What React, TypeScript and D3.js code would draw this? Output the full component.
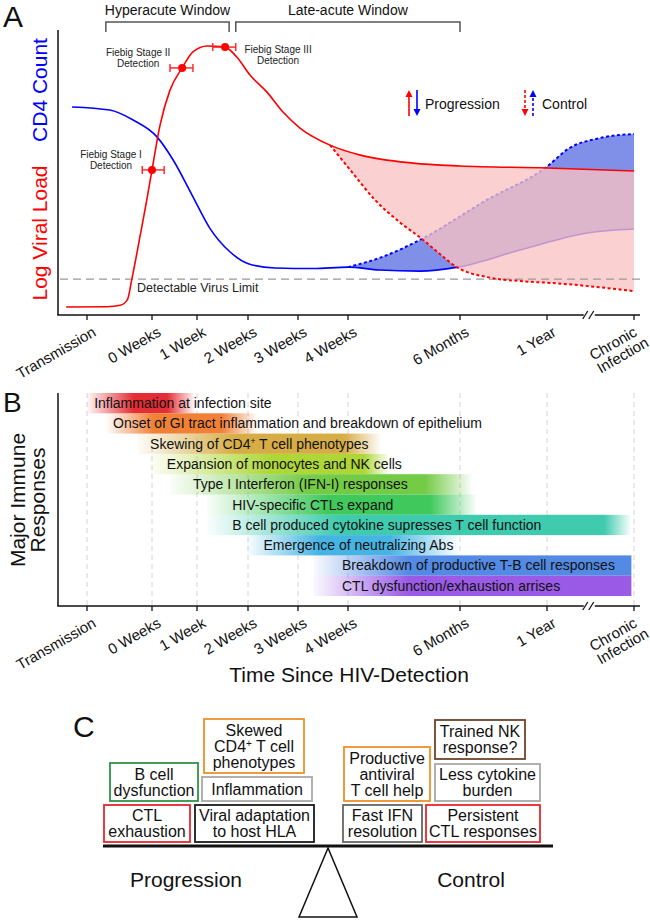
import React from "react";
import * as d3 from "d3";

// ---------- shared time axis ----------
const TICK_LABELS: string[][] = [
  ["Transmission"], ["0 Weeks"], ["1 Week"], ["2 Weeks"], ["3 Weeks"],
  ["4 Weeks"], ["6 Months"], ["1 Year"], ["Chronic", "Infection"],
];
const TICK_TIMES = [0, 1, 2, 3, 4, 5, 6, 7, 8];
const AXIS_BREAK = 7.48;

// ---------- panel A data (time index, relative level 0-100) ----------
const viralLoadProgression: [number, number][] = [
  [-0.32, 2.8], [0.3, 2.9], [0.51, 3.4], [0.62, 5.3], [0.69, 12.6], [0.82, 28.1],
  [0.92, 40.4], [1.0, 50.9], [1.18, 66.7], [1.4, 78.9], [1.67, 86.7], [1.91, 92.3],
  [2.2, 94.4], [2.55, 94.0], [2.78, 90.5], [3.04, 84.2], [3.38, 78.2], [3.7, 71.2],
  [4.04, 65.6], [4.64, 59.6], [5.11, 56.1], [5.58, 53.3], [6.0, 52.3], [7.0, 51.6], [8.0, 50.5],
];
const viralLoadControl: [number, number][] = [
  [4.64, 59.6], [5.02, 50.9], [5.24, 40.4], [5.46, 32.6], [5.66, 26.7], [5.82, 21.4],
  [5.97, 16.8], [6.31, 13.3], [6.69, 11.9], [7.07, 11.2], [8.0, 8.4],
];
const cd4Progression: [number, number][] = [
  [-0.23, 73.0], [0.35, 71.9], [0.71, 68.4], [1.11, 62.5], [1.47, 54.4], [1.89, 42.1],
  [2.25, 30.5], [2.65, 22.1], [3.02, 17.9], [3.54, 16.5], [4.3, 16.3], [5.0, 16.8],
  [5.28, 15.8], [5.64, 15.4], [5.98, 16.8], [6.69, 22.8], [7.46, 28.8], [8.0, 30.2],
];
const cd4Control: [number, number][] = [
  [5.0, 16.8], [5.28, 20.0], [5.66, 26.7], [6.31, 40.4], [6.98, 51.6], [7.26, 58.6],
  [7.61, 62.1], [8.0, 63.5],
];
const DETECTION_LIMIT = 12.6;
const fiebigLabels = [["Fiebig Stage I", "Detection"], ["Fiebig Stage II", "Detection"], ["Fiebig Stage III", "Detection"]];
const fiebigTime = [1.0, 1.67, 2.55];
const fiebigLevel = [50.9, 86.7, 94.0];
const fiebigLow = [0.85, 1.4, 2.31];
const fiebigHigh = [1.27, 1.91, 2.76];
const windowLabels = ["Hyperacute Window", "Late-acute Window"];
const windowFrom = [0.29, 2.76];
const windowTo = [2.63, 6.0];

// ---------- panel B data ----------
const responseLabels = [
  "Inflammation at infection site",
  "Onset of GI tract inflammation and breakdown of epithelium",
  "Skewing of CD4|+| T cell phenotypes",
  "Expansion of monocytes and NK cells",
  "Type I Interferon (IFN-I) responses",
  "HIV-specific CTLs expand",
  "B cell produced cytokine supresses T cell function",
  "Emergence of neutralizing Abs",
  "Breakdown of productive T-B cell responses",
  "CTL dysfunction/exhaustion arrises",
];
const responseColors = [
  "#e3222a", "#f07a2c", "#d5a83c", "#a9d52c", "#6cc83c",
  "#36c653", "#35c8aa", "#3cb0e2", "#4a84e2", "#9552e4",
];
const responseStart = [0.0, 0.31, 0.77, 0.97, 1.4, 2.2, 2.2, 2.98, 4.3, 4.3];
const responseFull = [0.85, 1.2, 2.6, 3.2, 3.6, 4.0, 4.0, 4.0, 5.4, 5.4];
const responseFade = [1.45, 2.5, 4.6, 4.9, 5.4, 5.5, 7.6, 5.0, 7.97, 7.97];
const responseEnd = [1.96, 3.2, 5.3, 5.37, 6.15, 6.2, 7.97, 6.0, 7.97, 7.97];
const responseLabelAt = [0.11, 0.4, 0.97, 1.33, 1.91, 2.69, 2.69, 3.31, 4.88, 4.88];

// ---------- panel C data ----------
const progressionFactors = [
  ["CTL", "exhaustion"], ["Viral adaptation", "to host HLA"], ["B cell", "dysfunction"],
  ["Inflammation"], ["Skewed", "CD4|+| T cell", "phenotypes"],
];
const progressionColors = ["#e8262e", "#1a1a1a", "#2e9447", "#a8a8a8", "#ef8f2a"];
const controlFactors = [
  ["Fast IFN", "resolution"], ["Persistent", "CTL responses"], ["Productive", "antiviral", "T cell help"],
  ["Less cytokine", "burden"], ["Trained NK", "response?"],
];
const controlColors = ["#666666", "#e8262e", "#ef8f2a", "#a8a8a8", "#6e4428"];

const FONT = "'Liberation Sans', Arial, Helvetica, sans-serif";

function SupText({ s, supSize }: { s: string; supSize: number }) {
  const parts = s.split("|");
  return (
    <>
      {parts.map((p, i) =>
        i % 2 === 1 ? (
          <tspan key={i} fontSize={supSize} baselineShift="super">{p}</tspan>
        ) : (
          <tspan key={i}>{p}</tspan>
        )
      )}
    </>
  );
}

export default function App() {
  const W = 650, H = 920;
  const TICK_PX = [87, 152, 197, 248, 298, 348, 460, 547, 634];
  const x = d3.scaleLinear().domain(TICK_TIMES).range(TICK_PX);
  const AX_L = 58, AX_R = 640;

  // Panel A
  const A_BOTTOM = 315, A_TOP = 30;
  const y = d3.scaleLinear().domain([0, 100]).range([A_BOTTOM, A_TOP]);
  const line = d3.line<[number, number]>().x(d => x(d[0])).y(d => y(d[1])).curve(d3.curveMonotoneX);
  const band = (upper: [number, number][], lower: [number, number][]) =>
    (line(upper) || "") + (line([...lower].reverse()) || "").replace(/^M/, "L") + "Z";
  const branch = viralLoadControl[0][0];
  const pinkPath = band(viralLoadProgression.filter(d => d[0] >= branch), viralLoadControl);
  const bluePath = band(cd4Control, cd4Progression.filter(d => d[0] >= cd4Control[0][0]));

  // Panel B
  const B_TOP = 393, B_BOTTOM = 606, ROW_H = 20.3;

  const xb = x(AXIS_BREAK);
  const axis = (axisY: number, topY: number, key: string) => (
    <g key={key}>
      <line x1={AX_L} x2={AX_L} y1={topY} y2={axisY} stroke="#111" strokeWidth={1.5} />
      <line x1={AX_L - 0.75} x2={xb - 5} y1={axisY} y2={axisY} stroke="#111" strokeWidth={1.5} />
      <line x1={xb + 6} x2={AX_R} y1={axisY} y2={axisY} stroke="#111" strokeWidth={1.5} />
      <line x1={xb - 6} x2={xb - 1} y1={axisY + 4} y2={axisY - 4} stroke="#111" strokeWidth={1.3} />
      <line x1={xb} x2={xb + 5} y1={axisY + 4} y2={axisY - 4} stroke="#111" strokeWidth={1.3} />
      {TICK_TIMES.map((t, i) => (
        <g key={i}>
          <line x1={x(t)} x2={x(t)} y1={axisY} y2={axisY + 5} stroke="#111" strokeWidth={1.3} />
          {TICK_LABELS[i].length === 1 ? (
            <text transform={`translate(${x(t) + 10},${axisY + 20}) rotate(-30)`} textAnchor="end"
              fontSize={15} fill="#111">{TICK_LABELS[i][0]}</text>
          ) : (
            <text transform={`translate(${x(t) + 4},${axisY + 20}) rotate(-30)`} textAnchor="end"
              fontSize={15} fill="#111">
              <tspan x={0} dy={0}>{TICK_LABELS[i][0]}</tspan>
              <tspan x={5} dy={15}>{TICK_LABELS[i][1]}</tspan>
            </text>
          )}
        </g>
      ))}
    </g>
  );

  const arrow = (ax: number, y0: number, y1: number, color: string, dashed: boolean, key: string) => {
    const dir = y1 < y0 ? -1 : 1;
    return (
      <g key={key}>
        <line x1={ax} x2={ax} y1={y0} y2={y1 - dir * 6} stroke={color} strokeWidth={1.6}
          strokeDasharray={dashed ? "3,2" : undefined} />
        <path d={`M${ax - 3.5},${y1 - dir * 7}L${ax},${y1}L${ax + 3.5},${y1 - dir * 7}Z`} fill={color} />
      </g>
    );
  };

  // Panel C layout
  const progBoxes = [
    [104, 190, 805, 842], [195, 314, 805, 842], [110, 198, 763, 801], [202, 312, 777, 801], [204, 304, 719, 773],
  ];
  const ctrlBoxes = [
    [343, 422, 805, 842], [426, 540, 805, 842], [344, 430, 747, 801], [435, 540, 764, 801], [435, 525, 720, 759],
  ];
  const box = (lines: string[], color: string, b: number[], key: string) => {
    const cx = (b[0] + b[1]) / 2, cy = (b[2] + b[3]) / 2;
    return (
      <g key={key}>
        <rect x={b[0]} y={b[2]} width={b[1] - b[0]} height={b[3] - b[2]} fill="white" stroke={color} strokeWidth={1.8} />
        {lines.map((l, i) => (
          <text key={i} x={cx} y={cy + (i - (lines.length - 1) / 2) * 16 + 5.5} textAnchor="middle" fontSize={16} fill="#111">
            <SupText s={l} supSize={10} />
          </text>
        ))}
      </g>
    );
  };

  return (
    <svg width={W} height={H} style={{ position: "absolute", left: 0, top: 0, background: "white" }}
      fontFamily={FONT}>
      <defs>
        {responseLabels.map((_, i) => {
          const s = responseStart[i], e = responseEnd[i];
          const span = e - s;
          const sharp = responseFade[i] >= e;
          return (
            <linearGradient key={i} id={`rg${i}`} gradientUnits="userSpaceOnUse" x1={x(s)} x2={x(e)} y1={0} y2={0}>
              <stop offset={0} stopColor={responseColors[i]} stopOpacity={0.03} />
              <stop offset={(responseFull[i] - s) / span} stopColor={responseColors[i]} stopOpacity={0.95} />
              <stop offset={Math.min(1, (responseFade[i] - s) / span)} stopColor={responseColors[i]} stopOpacity={0.95} />
              <stop offset={1} stopColor={responseColors[i]} stopOpacity={sharp ? 0.95 : 0} />
            </linearGradient>
          );
        })}
      </defs>

      {/* ================= Panel A ================= */}
      <text x={3} y={27} fontSize={30} fill="#111">A</text>
      {windowLabels.map((w, i) => (
        <g key={w}>
          <path d={`M${x(windowFrom[i])},32V22H${x(windowTo[i])}V32`} fill="none" stroke="#555" strokeWidth={1.5} />
          <text x={(x(windowFrom[i]) + x(windowTo[i])) / 2} y={15} textAnchor="middle" fontSize={14} fill="#111">{w}</text>
        </g>
      ))}
      <text transform={`translate(47,90) rotate(-90)`} textAnchor="middle" fontSize={21} fill="#0000ff">CD4 Count</text>
      <text transform={`translate(47,233) rotate(-90)`} textAnchor="middle" fontSize={21} fill="#ff0000">Log Viral Load</text>

      <path d={bluePath} fill="rgb(128,144,232)" stroke="none" />
      <path d={line(cd4Progression) || ""} fill="none" stroke="#0000ff" strokeWidth={1.6} />
      <path d={line(cd4Control) || ""} fill="none" stroke="#0000ff" strokeWidth={2} strokeDasharray="3,2.5" />
      <path d={pinkPath} fill="rgb(250,194,194)" fillOpacity={0.77} stroke="none" />
      <line x1={AX_L + 2} x2={AX_R} y1={y(DETECTION_LIMIT)} y2={y(DETECTION_LIMIT)} stroke="#999" strokeWidth={1.2} strokeDasharray="8,5" />
      <text x={137} y={y(DETECTION_LIMIT) + 13} fontSize={12.5} fill="#222">Detectable Virus Limit</text>
      <path d={line(viralLoadProgression) || ""} fill="none" stroke="#ff0000" strokeWidth={1.6} />
      <path d={line(viralLoadControl) || ""} fill="none" stroke="#ff0000" strokeWidth={2} strokeDasharray="3,2.5" />

      {fiebigTime.map((t, i) => {
        const px = x(t), py = y(fiebigLevel[i]);
        const lo = x(fiebigLow[i]), hi = x(fiebigHigh[i]);
        const lx = [px - 41, px - 44, px + 53][i];
        const ly = [py - 12, py - 12, py + 6][i];
        return (
          <g key={i}>
            <line x1={lo} x2={hi} y1={py} y2={py} stroke="#ff2020" strokeWidth={1.4} />
            <line x1={lo} x2={lo} y1={py - 4} y2={py + 4} stroke="#ff2020" strokeWidth={1.4} />
            <line x1={hi} x2={hi} y1={py - 4} y2={py + 4} stroke="#ff2020" strokeWidth={1.4} />
            <circle cx={px} cy={py} r={4} fill="#ff0000" />
            {fiebigLabels[i].map((l, j) => (
              <text key={j} x={lx} y={ly + j * 11} textAnchor="middle" fontSize={10} fill="#222">{l}</text>
            ))}
          </g>
        );
      })}

      {arrow(409, 116, 90, "#ff0000", false, "a1")}
      {arrow(417, 90, 116, "#0000ff", false, "a2")}
      <text x={425} y={109} fontSize={14} fill="#111">Progression</text>
      {arrow(525, 90, 116, "#ff0000", true, "a3")}
      {arrow(533, 116, 90, "#0000ff", true, "a4")}
      <text x={542} y={109} fontSize={14} fill="#111">Control</text>

      {axis(A_BOTTOM, A_TOP, "axA")}

      {/* ================= Panel B ================= */}
      <text x={3} y={412} fontSize={28} fill="#111">B</text>
      <text transform={`translate(25,500) rotate(-90)`} textAnchor="middle" fontSize={21} fill="#111">Major Immune</text>
      <text transform={`translate(45,500) rotate(-90)`} textAnchor="middle" fontSize={21} fill="#111">Responses</text>
      {TICK_TIMES.map((t, i) => (
        <line key={i} x1={x(t)} x2={x(t)} y1={B_TOP} y2={B_BOTTOM} stroke="#d4d4d4" strokeWidth={1} strokeDasharray="5,4" />
      ))}
      {responseLabels.map((lab, i) => {
        const top = B_TOP + i * ROW_H;
        return (
          <g key={i}>
            <rect x={x(responseStart[i])} y={top} width={x(responseEnd[i]) - x(responseStart[i])} height={ROW_H}
              fill={`url(#rg${i})`} />
            <text x={x(responseLabelAt[i])} y={top + 15} fontSize={14} fill="#111">
              <SupText s={lab} supSize={8.5} />
            </text>
          </g>
        );
      })}
      {axis(B_BOTTOM, B_TOP, "axB")}
      <text x={349} y={682} textAnchor="middle" fontSize={21} fill="#111">Time Since HIV-Detection</text>

      {/* ================= Panel C ================= */}
      <text x={73} y={737} fontSize={30} fill="#111">C</text>
      {progressionFactors.map((f, i) => box(f, progressionColors[i], progBoxes[i], `p${i}`))}
      {controlFactors.map((f, i) => box(f, controlColors[i], ctrlBoxes[i], `c${i}`))}
      <line x1={103} x2={553} y1={846} y2={846} stroke="#111" strokeWidth={3} />
      <path d="M328,848L299,917H357Z" fill="white" stroke="#111" strokeWidth={1.5} />
      <text x={186} y={887} textAnchor="middle" fontSize={21} fill="#111">Progression</text>
      <text x={471} y={887} textAnchor="middle" fontSize={21} fill="#111">Control</text>
    </svg>
  );
}
